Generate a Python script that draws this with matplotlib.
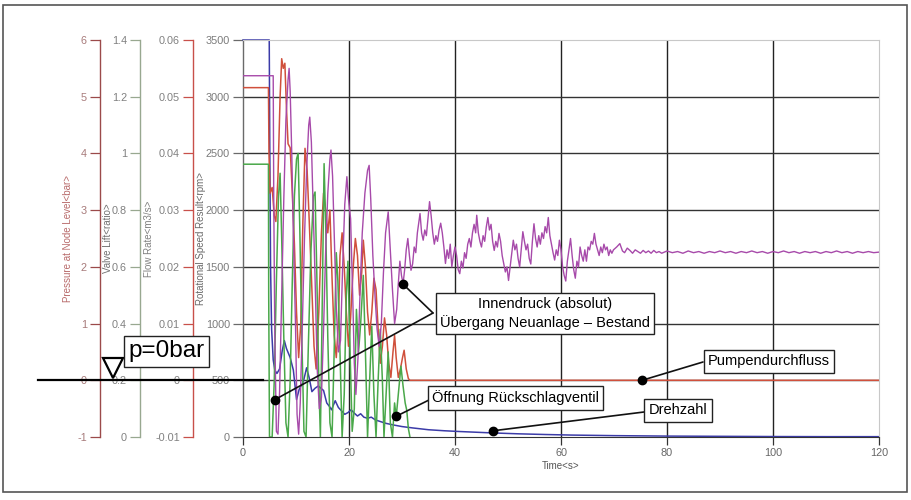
import matplotlib
matplotlib.use("Agg")
import matplotlib.pyplot as plt
from matplotlib import font_manager
from matplotlib.patches import Rectangle
from matplotlib.ticker import MultipleLocator, FuncFormatter
from matplotlib.transforms import blended_transform_factory

# ---- data (time in s) ----
speed_t = [0, 4.95, 5.05, 5.2, 5.4, 5.7, 6.0, 6.4, 6.9, 7.4, 7.8, 8.2, 8.9, 9.5, 10.1,
           10.6, 11.4, 12.0, 12.5, 13.0, 13.6, 14.2, 15.2, 15.8, 16.3, 16.7, 17.4, 18.0,
           18.6, 19.2, 19.8, 20.4, 21.0, 21.6, 22.2, 22.8, 23.5, 24.2, 25.0, 26.0, 27.0,
           28.5, 30.0, 32.0, 35.0, 38.0, 41.0, 44.0, 47.0, 52.0, 57.0, 62.0, 70.0, 80.0,
           90.0, 100.0, 110.0, 120.0]
speed_rpm = [3500, 3500, 2600, 1500, 950, 680, 590, 560, 600, 760, 850, 780, 700, 590, 330,
             420, 490, 610, 520, 400, 430, 450, 410, 300, 270, 240, 320, 260,
             230, 200, 215, 240, 210, 185, 205, 175, 165, 175, 150, 135, 120,
             105, 92, 80, 64, 55, 48, 42, 36, 28, 22, 17, 12, 8,
             6, 4, 3, 3]

pressure_pts = [
    (0, 5.37), (5.7, 5.37), (5.8, 3.2), (6.0, 0.8), (6.3, -0.9), (6.6, -0.95), (6.9, -0.2),
    (7.3, 1.5), (7.7, 3.2), (8.1, 4.6), (8.5, 5.3), (8.7, 5.5), (8.9, 5.1), (9.2, 4.0),
    (9.5, 2.6), (9.9, 1.0), (10.2, -0.6), (10.5, -0.95), (10.8, -0.4), (11.2, 1.0),
    (11.6, 2.5), (12.0, 3.7), (12.4, 4.5), (12.6, 4.64), (12.9, 4.2), (13.2, 3.2),
    (13.6, 1.8), (14.0, 0.2), (14.4, -0.5), (14.8, -0.3), (15.2, 0.9), (15.6, 2.3),
    (16.0, 3.3), (16.4, 3.9), (16.6, 4.06), (16.9, 3.6), (17.2, 2.6), (17.6, 1.3),
    (18.0, 0.5), (18.4, 0.7), (18.8, 2.0), (19.2, 3.1), (19.6, 3.59), (19.9, 3.2),
    (20.3, 2.85), (20.7, 1.5), (21.0, 0.3), (21.3, -0.25), (21.7, 0.4), (22.1, 1.6),
    (22.5, 2.6), (23.0, 3.3), (23.5, 3.7), (23.8, 3.79), (24.1, 3.2), (24.5, 2.2),
    (24.9, 1.5), (25.3, 0.9), (25.7, 0.6), (26.1, 1.0), (26.5, 1.9), (26.9, 2.6),
    (27.4, 2.97), (27.8, 2.3), (28.2, 1.6), (28.6, 1.0),
    (29.0, 1.25), (29.3, 1.7), (29.6, 2.1), (29.9, 1.85), (30.2, 1.7), (30.5, 1.95),
    (30.8, 2.3), (31.1, 2.5), (31.4, 2.2), (31.7, 1.94), (32.0, 2.05), (32.3, 2.35),
    (32.6, 2.25), (32.9, 2.6), (33.2, 2.8), (33.4, 2.94), (33.7, 2.6), (34.0, 2.47),
    (34.3, 2.65), (34.6, 2.55), (34.9, 2.85), (35.2, 3.15), (35.5, 2.9), (35.8, 2.6),
    (36.1, 2.4), (36.4, 2.55), (36.7, 2.45), (37.0, 2.65), (37.3, 2.77), (37.6, 2.6),
    (37.9, 2.35), (38.2, 2.06), (38.5, 2.3), (38.8, 2.15), (39.1, 2.4), (39.4, 2.0),
    (39.7, 2.2), (40.0, 2.35), (40.3, 2.2), (40.6, 1.95), (40.9, 1.88), (41.2, 2.1),
    (41.5, 1.98), (41.8, 2.25), (42.1, 2.15), (42.4, 2.4), (42.7, 2.5), (43.0, 2.35),
    (43.3, 2.6), (43.6, 2.75), (43.9, 2.6), (44.1, 2.91), (44.4, 2.6), (44.7, 2.45),
    (45.0, 2.35), (45.3, 2.55), (45.6, 2.45), (45.9, 2.7), (46.2, 2.87), (46.5, 2.65),
    (46.8, 2.75), (47.1, 2.45), (47.4, 2.29), (47.7, 2.45), (48.0, 2.35), (48.3, 2.59),
    (48.6, 2.45), (48.9, 2.2), (49.2, 2.05), (49.5, 1.91), (49.8, 2.0), (50.1, 1.76),
    (50.4, 2.0), (50.7, 2.25), (51.0, 2.47), (51.3, 2.3), (51.6, 2.4), (51.9, 2.15),
    (52.2, 2.0), (52.5, 2.3), (52.8, 2.62), (53.1, 2.45), (53.4, 2.3), (53.7, 2.4),
    (54.0, 2.15), (54.3, 2.05), (54.6, 2.45), (54.9, 2.76), (55.2, 2.5), (55.5, 2.35),
    (55.8, 2.55), (56.1, 2.4), (56.4, 2.6), (56.7, 2.5), (57.0, 2.71), (57.3, 2.6),
    (57.6, 2.87), (57.9, 2.55), (58.2, 2.4), (58.5, 2.25), (58.8, 2.12), (59.1, 2.3),
    (59.4, 2.2), (59.7, 2.47), (60.0, 2.3), (60.3, 2.0), (60.6, 1.85), (60.9, 1.75),
    (61.2, 2.1), (61.5, 2.3), (61.8, 2.5), (62.1, 2.2), (62.4, 1.95), (62.7, 1.8),
    (63.0, 2.1), (63.3, 2.0), (63.6, 2.35), (63.9, 2.2), (64.2, 2.1), (64.5, 2.3),
    (64.8, 2.1), (65.1, 2.35), (65.4, 2.3), (65.7, 2.45), (66.0, 2.4), (66.3, 2.59),
    (66.6, 2.4), (66.9, 2.3), (67.2, 2.2), (67.5, 2.35), (67.8, 2.25), (68.1, 2.4),
    (68.4, 2.3), (68.7, 2.35), (69.0, 2.2), (69.3, 2.3), (69.6, 2.24), (69.9, 2.3),
    (70.5, 2.35), (71.1, 2.41), (71.6, 2.28), (72.0, 2.25), (72.5, 2.33), (73.0, 2.29),
    (73.5, 2.24), (74.0, 2.3), (74.5, 2.27), (75.0, 2.24), (75.5, 2.29), (76.0, 2.25),
    (76.5, 2.28), (77.0, 2.24), (77.5, 2.29), (78.0, 2.25), (78.5, 2.27), (79.0, 2.24),
    (80.0, 2.28), (81.0, 2.25), (82.0, 2.27), (83.0, 2.24), (84.0, 2.28), (85.0, 2.25),
    (86.0, 2.27), (87.0, 2.24), (88.0, 2.27), (89.0, 2.25), (90.0, 2.28), (91.0, 2.25),
    (92.0, 2.27), (93.0, 2.24), (94.0, 2.27), (95.0, 2.25), (96.0, 2.28), (97.0, 2.25),
    (98.0, 2.27), (99.0, 2.24), (100.0, 2.27), (101.0, 2.25), (102.0, 2.28), (103.0, 2.25),
    (104.0, 2.27), (105.0, 2.24), (106.0, 2.27), (107.0, 2.25), (108.0, 2.27),
    (109.0, 2.24), (110.0, 2.27), (111.0, 2.25), (112.0, 2.28), (113.0, 2.25),
    (114.0, 2.27), (115.0, 2.24), (116.0, 2.27), (117.0, 2.25), (118.0, 2.27),
    (119.0, 2.25), (120.0, 2.26)]

flow_pts = [
    (0, 0.0516), (4.8, 0.0516), (4.9, 0.04), (5.1, 0.033), (5.5, 0.034), (5.9, 0.029),
    (6.2, 0.028), (6.6, 0.036), (7.0, 0.05), (7.3, 0.0567), (7.6, 0.055), (7.9, 0.0559),
    (8.2, 0.048), (8.5, 0.0417), (8.9, 0.041), (9.3, 0.033), (9.7, 0.024), (10.1, 0.012),
    (10.5, 0.004), (10.9, 0.01), (11.3, 0.028), (11.7, 0.0409), (12.1, 0.037),
    (12.5, 0.028), (13.0, 0.016), (13.4, 0.006), (13.8, 0.002), (14.3, 0.012),
    (14.8, 0.026), (15.2, 0.033), (15.6, 0.03), (16.0, 0.026), (16.4, 0.03),
    (16.8, 0.018), (17.2, 0.008), (17.6, 0.004), (18.0, 0.01), (18.3, 0.022),
    (18.7, 0.026), (19.1, 0.02), (19.5, 0.012), (19.9, 0.006), (20.3, 0.011),
    (20.8, 0.02), (21.2, 0.025), (21.6, 0.022), (22.0, 0.015), (22.4, 0.019),
    (22.7, 0.0247), (23.1, 0.02), (23.5, 0.012), (23.9, 0.008), (24.3, 0.012),
    (24.7, 0.018), (25.1, 0.016), (25.5, 0.009), (25.9, 0.003), (26.3, 0.006),
    (26.7, 0.011), (27.1, 0.008), (27.5, 0.003), (27.9, 0.0005), (28.3, 0.005),
    (28.6, 0.0079), (28.9, 0.004), (29.3, 0.0005), (29.7, 0.002), (30.1, 0.004),
    (30.4, 0.0053), (30.8, 0.002), (31.2, 0.0003), (31.5, 0.0), (120.0, 0.0)]

lift_pts = [
    (0, 0.962), (4.8, 0.962), (4.85, 0.5), (5.0, 0.0), (5.5, 0.0), (5.9, 0.2), (6.3, 0.55),
    (6.7, 0.85), (7.0, 0.93), (7.3, 0.7), (7.7, 0.35), (8.1, 0.05), (8.5, 0.0), (8.9, 0.2),
    (9.3, 0.55), (9.7, 0.85), (10.1, 0.98), (10.4, 1.0), (10.7, 0.75), (11.1, 0.35),
    (11.5, 0.02), (11.9, 0.0), (12.3, 0.3), (12.8, 0.65), (13.3, 0.85), (13.6, 0.864),
    (13.9, 0.6), (14.3, 0.2), (14.6, 0.0), (14.9, 0.4), (15.3, 0.964), (15.6, 0.75),
    (16.0, 0.35), (16.4, 0.05), (16.8, 0.0), (17.2, 0.3), (17.6, 0.65), (17.9, 0.55),
    (18.3, 0.3), (18.7, 0.0), (19.1, 0.15), (19.5, 0.5), (19.8, 0.62), (20.2, 0.3),
    (20.6, 0.02), (21.0, 0.1), (21.4, 0.45), (21.8, 0.3), (22.2, 0.4), (22.7, 0.57),
    (23.1, 0.3), (23.5, 0.0), (23.9, 0.2), (24.3, 0.39), (24.7, 0.15), (25.1, 0.0),
    (25.5, 0.2), (25.9, 0.38), (26.3, 0.2), (26.6, 0.0), (27.0, 0.15), (27.4, 0.3),
    (27.8, 0.05), (28.2, 0.0), (28.6, 0.12), (28.9, 0.07), (29.3, 0.15), (29.8, 0.25),
    (30.2, 0.18), (30.6, 0.12), (30.9, 0.094), (31.2, 0.03), (31.5, 0.0)]

pressure_t, pressure_bar = zip(*pressure_pts)
flow_t, flow_m3s = zip(*flow_pts)
lift_t, lift_ratio = zip(*lift_pts)

W, H = 911, 500
fig = plt.figure(figsize=(W / 100, H / 100), dpi=100)

names = {f.name for f in font_manager.fontManager.ttflist}
if 'Liberation Sans Narrow' in names:
    small_font, tick_fs, lab_fs = 'Liberation Sans Narrow', 9.2, 8.5
else:
    small_font, tick_fs, lab_fs = 'Liberation Sans', 7.8, 7.0
plt.rcParams['font.family'] = small_font


def px(x, y):
    # reference pixel (from top-left) -> figure fraction
    return x / W, 1 - y / H


left, right, top, bottom = 243, 879, 40, 437
rect = [left / W, 1 - bottom / H, (right - left) / W, (bottom - top) / H]
ax_w = right - left

ax_s = fig.add_axes(rect)
ax_f = ax_s.twinx()
ax_v = ax_s.twinx()
ax_p = ax_s.twinx()

ax_s.set_xlim(0, 120)
ax_s.set_ylim(0, 3500)
ax_f.set_ylim(-0.01, 0.06)
ax_v.set_ylim(0, 1.4)
ax_p.set_ylim(-1, 6)


def fmt(v, pos):
    v = round(v, 4)
    if abs(v) < 1e-9:
        v = 0
    return f"{v:g}"


axis_cfg = [
    # ax, spine x (px), step, spine colour, tick label colour, label, label colour, label x (px)
    (ax_p, 100, 1, '#9b4a4a', '#a77a7a', 'Pressure at Node Level<bar>', '#b86a6a', 73),
    (ax_v, 140, 0.2, '#98a890', '#808080', 'Valve Lift<ratio>', '#707070', 113),
    (ax_f, 193, 0.01, '#c8504a', '#808080', 'Flow Rate<m3/s>', '#808080', 154),
    (ax_s, 243, 500, '#6a6a6a', '#7a7a7a', 'Rotational Speed Result<rpm>', '#6a6a6a', 206),
]
for ax, sx, step, scol, tcol, label, lcol, lx in axis_cfg:
    for name in ['top', 'right', 'bottom']:
        ax.spines[name].set_visible(False)
    ax.spines['left'].set_visible(True)
    ax.spines['left'].set_position(('axes', (sx - left) / ax_w))
    ax.spines['left'].set_color(scol)
    ax.spines['left'].set_linewidth(1.0)
    ax.yaxis.tick_left()
    ax.yaxis.set_label_position('left')
    ax.yaxis.set_major_locator(MultipleLocator(step))
    ax.yaxis.set_major_formatter(FuncFormatter(fmt))
    ax.tick_params(axis='y', length=7, width=0.9, color=scol, labelcolor=tcol,
                   labelsize=tick_fs, pad=2.5)
    ax.set_ylabel(label, color=lcol, fontsize=lab_fs)
    ax.yaxis.set_label_coords((lx - left) / ax_w, 0.5)

ax_s.spines['top'].set_visible(True)
ax_s.spines['right'].set_visible(True)
ax_s.spines['bottom'].set_visible(True)
ax_s.spines['top'].set_color('#c8c8c8')
ax_s.spines['right'].set_color('#c8c8c8')
ax_s.spines['bottom'].set_color('#333333')
ax_s.xaxis.set_major_locator(MultipleLocator(20))
ax_s.tick_params(axis='x', length=6, width=0.9, color='#333333', labelcolor='#666666',
                 labelsize=tick_fs, pad=2)
ax_s.set_xlabel('Time<s>', fontsize=lab_fs, color='#555555')
ax_s.xaxis.set_label_coords(0.5, -(461 - bottom) / (bottom - top))

# grid (inner lines dark, border light)
for x in [20, 40, 60, 80, 100]:
    ax_s.axvline(x, color='#222222', lw=1.0, zorder=0)
for y in [500, 1000, 1500, 2000, 2500, 3000]:
    ax_s.axhline(y, color='#333333', lw=1.0, zorder=0)

ax_s.plot(speed_t, speed_rpm, color='#3b3ba8', lw=1.1, clip_on=False)
ax_f.plot(flow_t, flow_m3s, color='#d0503c', lw=1.1)
ax_v.plot(lift_t, lift_ratio, color='#4aa84a', lw=1.1)
ax_p.plot(pressure_t, pressure_bar, color='#a74aaa', lw=1.0)

# p = 0 bar reference line and marker
blend = blended_transform_factory(fig.transFigure, ax_p.transData)
ax_p.plot([38 / W, 263 / W], [0, 0], color='black', lw=1.6, transform=blend,
          clip_on=False, zorder=20)
ax_p.plot([113 / W], [0.22], marker='v', ms=14, mfc='white', mec='black', mew=1.6,
          transform=blend, clip_on=False, zorder=21)

box = dict(boxstyle='square,pad=0.3', fc='white', ec='#222222', lw=1.0)
fig.text(*px(166.5, 351.5), 'p=0bar', ha='center', va='center', fontsize=17.5,
         family='Liberation Sans', bbox=dict(boxstyle='square,pad=0.2', fc='white',
                                            ec='#222222', lw=1.0), zorder=30)
fig.text(*px(545, 313.5), 'Innendruck (absolut)\nÜbergang Neuanlage – Bestand',
         ha='center', va='center', fontsize=10.5, linespacing=1.3,
         family='Liberation Sans', bbox=box, zorder=30)
fig.text(*px(515.5, 398), 'Öffnung Rückschlagventil', ha='center', va='center',
         fontsize=10.5, family='Liberation Sans', bbox=box, zorder=30)
fig.text(*px(769, 361.5), 'Pumpendurchfluss', ha='center', va='center',
         fontsize=10.5, family='Liberation Sans', bbox=box, zorder=30)
fig.text(*px(678, 410.5), 'Drehzahl', ha='center', va='center',
         fontsize=10.5, family='Liberation Sans', bbox=box, zorder=30)

# leader lines with dots: (axes, time, value, box anchor px)
leaders = [
    (ax_p, 30.25, 1.69, (433, 313)),
    (ax_p, 6.04, -0.34, (433, 313)),
    (ax_v, 28.9, 0.073, (429, 400)),
    (ax_f, 75.3, 0.0, (703, 362)),
    (ax_s, 47.2, 55, (644, 412)),
]
for ax, t, v, (bx, by) in leaders:
    ax.annotate('', xy=(t, v), xytext=(bx, H - by), textcoords='figure pixels',
                arrowprops=dict(arrowstyle='-', color='#111111', lw=1.2,
                                shrinkA=0, shrinkB=0), zorder=25)
    ax.plot([t], [v], 'o', color='black', ms=6, zorder=26, clip_on=False)

# outer frame
fig.add_artist(Rectangle((3 / W, 1 - 492 / H), 904 / W, 487 / H, transform=fig.transFigure,
                         fill=False, ec='#555555', lw=1.2))

fig.savefig('out.png', dpi=100)
